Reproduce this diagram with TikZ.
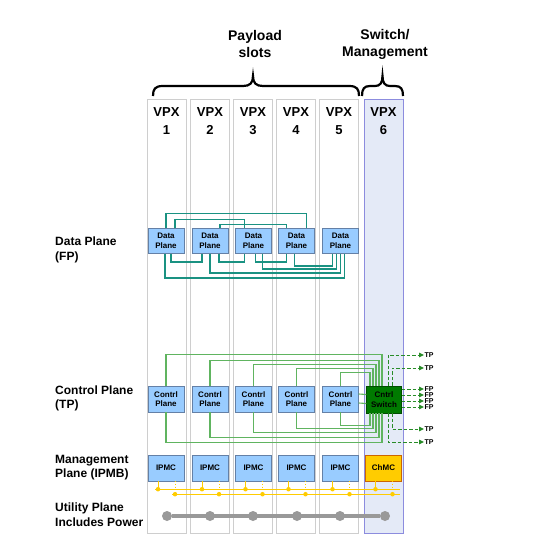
\documentclass[tikz,border=0pt]{standalone}
\usepackage{fontspec}
\setmainfont{Liberation Sans}
\usepackage{tikz}
\usetikzlibrary{shapes,arrows,arrows.meta,positioning,fit}

\definecolor{boxblue}{RGB}{153,204,255}
\definecolor{boxedge}{RGB}{100,128,166}
\definecolor{slotedge}{RGB}{206,206,206}
\definecolor{swfill}{RGB}{228,234,247}
\definecolor{swedge}{RGB}{140,140,222}
\definecolor{dpline}{RGB}{26,146,130}
\definecolor{cpline}{RGB}{96,180,96}
\definecolor{cntrl}{RGB}{0,122,0}
\definecolor{tpline}{RGB}{40,140,40}
\definecolor{ipmb}{RGB}{255,204,0}
\definecolor{pwr}{RGB}{153,153,153}

\begin{document}
\begin{tikzpicture}[x=1pt,y=-1pt]
		\tikzstyle{Slot} 	= [draw=slotedge, fill=white, line width=0.8pt, minimum width=39pt, minimum height=434pt, inner sep=0pt]
		\tikzstyle{SwSlot}	= [Slot, draw=swedge, fill=swfill]
		\tikzstyle{Head}	= [font=\bfseries\fontsize{13}{17.5}\selectfont, align=center, inner sep=0pt]
		\tikzstyle{Title}	= [font=\bfseries\fontsize{14}{17}\selectfont, align=center, inner sep=0pt]
		\tikzstyle{Side}	= [font=\bfseries\fontsize{12}{14.5}\selectfont, align=left, anchor=west, inner sep=0pt]
		\tikzstyle{Card}	= [draw=boxedge, fill=boxblue, minimum width=36pt, minimum height=25pt, inner sep=0pt, align=center, font=\bfseries\fontsize{8}{9.5}\selectfont]
		\tikzstyle{Switch}	= [Card, draw=green!30!black, fill=cntrl, minimum width=35pt, minimum height=27pt]
		\tikzstyle{Chmc}	= [Card, draw=orange!80!black, fill=ipmb]
		\tikzstyle{Port}	= [font=\bfseries\fontsize{7}{7}\selectfont, anchor=west, inner sep=0.5pt]
		\tikzstyle{DP}		= [dpline, line width=1.6pt]
		\tikzstyle{CP}		= [cpline, line width=1.1pt]
		\tikzstyle{TPL}		= [tpline, line width=1pt, dash pattern=on 3.5pt off 2pt, -{Triangle[length=5pt,width=4.5pt]}]
		\tikzstyle{Bus}		= [ipmb, line width=1pt]
		\tikzstyle{Drop}	= [ipmb, line width=0.7pt, dotted]
		\tikzstyle{Dot}		= [circle, fill=ipmb, minimum size=4.5pt, inner sep=0pt]
		\tikzstyle{PDot}	= [circle, fill=pwr, minimum size=10pt, inner sep=0pt]

		\useasboundingbox (0,0) rectangle (555,550);

		% slots
		\node (s1) at (166.5,316) [Slot] {};
		\node (s2) at (210,316) [Slot] {};
		\node (s3) at (253,316) [Slot] {};
		\node (s4) at (296,316) [Slot] {};
		\node (s5) at (339,316) [Slot] {};
		\node (s6) at (383.5,316) [SwSlot] {};

		\node (h1) at (166.5,121) [Head] {VPX\\1};
		\node (h2) at (210,121) [Head] {VPX\\2};
		\node (h3) at (253,121) [Head] {VPX\\3};
		\node (h4) at (296,121) [Head] {VPX\\4};
		\node (h5) at (339,121) [Head] {VPX\\5};
		\node (h6) at (383.5,121) [Head] {VPX\\6};

		% braces
		\draw [line width=2.2pt] (153,96) .. controls (153,89) and (155,86) .. (163,86) -- (243,86)
			.. controls (250,86) and (253,83) .. (253,76) .. controls (253,83) and (256,86) .. (263,86)
			-- (349,86) .. controls (357,86) and (359,89) .. (359,96);
		\draw [line width=2.2pt] (362,96) .. controls (362,89) and (364,86) .. (370,86) -- (375,86)
			.. controls (380,86) and (382.5,83) .. (382.5,76) .. controls (382.5,83) and (385,86) .. (390,86)
			-- (395,86) .. controls (401,86) and (403,89) .. (403,96);
		\node (t1) at (255,44) [Title] {Payload\\slots};
		\node (t2) at (385,44) [Title] {Switch/\\Management};

		% plane labels
		\node (ldp) at (55,250) [Side] {Data Plane\\(FP)};
		\node (lcp) at (55,398.5) [Side] {Control Plane\\(TP)};
		\node (lmp) at (55,467.5) [Side] {Management\\Plane (IPMB)};
		\node (lup) at (55,514.5) [Side] {Utility Plane\\Includes Power};

		% data plane
		\node (d1) at (166,241) [Card] {Data\\Plane};
		\node (d2) at (210,241) [Card] {Data\\Plane};
		\node (d3) at (253.5,241) [Card] {Data\\Plane};
		\node (d4) at (296.5,241) [Card] {Data\\Plane};
		\node (d5) at (340.5,241) [Card] {Data\\Plane};

		\draw [DP] (d1.north) -- ++(0,-15) -| ([xshift=10pt]d4.north);
		\draw [DP] ([xshift=9pt]d1.north) -- ++(0,-9) -| ([xshift=-9pt]d3.north);
		\draw [DP] ([xshift=10pt]d2.north) -- ++(0,-4) -| ([xshift=-10pt]d4.north);
		\draw [DP] ([xshift=5pt]d1.south) -- ++(0,8) -| ([xshift=-8pt]d2.south);
		\draw [DP] ([xshift=9pt]d2.south) -- ++(0,8) -| ([xshift=-9pt]d3.south);
		\draw [DP] ([xshift=2pt]d3.south) -- ++(0,8) -| ([xshift=-10pt]d4.south);
		\draw [DP] ([xshift=-2pt]d4.south) -- ++(0,12) -| ([xshift=-8pt]d5.south);
		\draw [DP] ([xshift=9pt]d3.south) -- ++(0,15) -| ([xshift=-4pt]d5.south);
		\draw [DP] (d2.south) -- ++(0,19) -| (d5.south);
		\draw [DP] ([xshift=-1pt]d1.south) -- ++(0,24) -| ([xshift=4pt]d5.south);

		% control plane
		\node (c1) at (166,399) [Card, minimum height=26pt] {Contrl\\Plane};
		\node (c2) at (210,399) [Card, minimum height=26pt] {Contrl\\Plane};
		\node (c3) at (253.5,399) [Card, minimum height=26pt] {Contrl\\Plane};
		\node (c4) at (296.5,399) [Card, minimum height=26pt] {Contrl\\Plane};
		\node (c5) at (340.5,399) [Card, minimum height=26pt] {Contrl\\Plane};
		\node (sw) at (384,399.5) [Switch] {Cntrl\\Switch};

		\draw [CP] (c1.north) -- ++(0,-31) -| ([xshift=-2pt]sw.north);
		\draw [CP] (c2.north) -- ++(0,-25) -| ([xshift=-5pt]sw.north);
		\draw [CP] (c3.north) -- ++(0,-21) -| ([xshift=-8pt]sw.north);
		\draw [CP] (c4.north) -- ++(0,-17) -| ([xshift=-11pt]sw.north);
		\draw [CP] (c5.north) -- ++(0,-13) -| ([xshift=-14pt]sw.north);
		\draw [CP] (c1.south) -- ++(0,30) -| ([xshift=-2pt]sw.south);
		\draw [CP] (c2.south) -- ++(0,25) -| ([xshift=-5pt]sw.south);
		\draw [CP] (c3.south) -- ++(0,20) -| ([xshift=-8pt]sw.south);
		\draw [CP] (c4.south) -- ++(0,16) -| ([xshift=-11pt]sw.south);
		\draw [CP] (c5.south) -- ++(0,13) -| ([xshift=-14pt]sw.south);
		\draw [CP] ([yshift=5pt]c5.east) -- ([yshift=5pt]sw.west);
		\draw [CP] ([yshift=-4pt]c5.east) -- ([yshift=-4pt]sw.west);

		\node (tp1) at (424,355) [Port] {TP};
		\node (tp2) at (424,368) [Port] {TP};
		\node (fp1) at (424,389) [Port] {FP};
		\node (fp2) at (424,395) [Port] {FP};
		\node (fp3) at (424,401) [Port] {FP};
		\node (fp4) at (424,407) [Port] {FP};
		\node (tp3) at (424,429) [Port] {TP};
		\node (tp4) at (424,442) [Port] {TP};

		\draw [TPL] ([xshift=4pt]sw.north) |- (tp1.west);
		\draw [TPL] ([xshift=8pt]sw.north) |- (tp2.west);
		\draw [TPL] ([yshift=10.5pt]sw.east) -- (fp1.west);
		\draw [TPL] ([yshift=4.5pt]sw.east) -- (fp2.west);
		\draw [TPL] ([yshift=-1.5pt]sw.east) -- (fp3.west);
		\draw [TPL] ([yshift=-7.5pt]sw.east) -- (fp4.west);
		\draw [TPL] ([xshift=8pt]sw.south) |- (tp3.west);
		\draw [TPL] ([xshift=4pt]sw.south) |- (tp4.west);

		% management plane
		\node (m1) at (166,468) [Card, minimum height=26pt] {IPMC};
		\node (m2) at (210,468) [Card, minimum height=26pt] {IPMC};
		\node (m3) at (253.5,468) [Card, minimum height=26pt] {IPMC};
		\node (m4) at (296.5,468) [Card, minimum height=26pt] {IPMC};
		\node (m5) at (340.5,468) [Card, minimum height=26pt] {IPMC};
		\node (cm) at (383.5,468) [Chmc, minimum height=26pt] {ChMC};

		\coordinate (ba) at (155,489);
		\coordinate (bb) at (400,489);
		\coordinate (bc) at (172,494);
		\coordinate (bd) at (400,494);
		\draw [Bus] (ba) -- (bb);
		\draw [Bus] (bc) -- (bd);

		\draw [Bus] ([xshift=-8pt]m1.south) -- ++(0,8) node (y1) [Dot] {};
		\draw [Bus] ([xshift=-8pt]m2.south) -- ++(0,8) node (y2) [Dot] {};
		\draw [Bus] ([xshift=-8pt]m3.south) -- ++(0,8) node (y3) [Dot] {};
		\draw [Bus] ([xshift=-8pt]m4.south) -- ++(0,8) node (y4) [Dot] {};
		\draw [Bus] ([xshift=-8pt]m5.south) -- ++(0,8) node (y5) [Dot] {};
		\draw [Bus] ([xshift=-8pt]cm.south) -- ++(0,8) node (y6) [Dot] {};
		\draw [Drop] ([xshift=9pt]m1.south) -- ++(0,13) node (z1) [Dot] {};
		\draw [Drop] ([xshift=9pt]m2.south) -- ++(0,13) node (z2) [Dot] {};
		\draw [Drop] ([xshift=9pt]m3.south) -- ++(0,13) node (z3) [Dot] {};
		\draw [Drop] ([xshift=9pt]m4.south) -- ++(0,13) node (z4) [Dot] {};
		\draw [Drop] ([xshift=9pt]m5.south) -- ++(0,13) node (z5) [Dot] {};
		\draw [Drop] ([xshift=9pt]cm.south) -- ++(0,13) node (z6) [Dot] {};

		% utility plane
		\node (u1) at (167,516) [PDot] {};
		\node (u2) at (210,516) [PDot] {};
		\node (u3) at (253,516) [PDot] {};
		\node (u4) at (297,516) [PDot] {};
		\node (u5) at (340,516) [PDot] {};
		\node (u6) at (385,516) [PDot] {};
		\draw [pwr, line width=4pt] (u1) -- (u6);
\end{tikzpicture}
\end{document}
